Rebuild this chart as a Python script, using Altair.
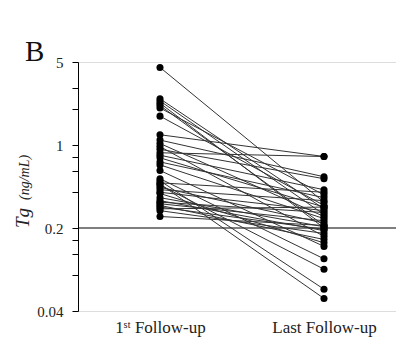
import altair as alt
import pandas as pd

# Tg values (ng/mL) per patient
first_fu = [4.5, 2.45, 2.35, 2.25, 2.15, 2.05, 1.75, 1.22, 1.10, 1.03, 0.97, 0.92,
            0.86, 0.82, 0.78, 0.72, 0.68, 0.61, 0.52, 0.50, 0.48, 0.47, 0.46, 0.44,
            0.42, 0.40, 0.39, 0.36, 0.34, 0.33, 0.32, 0.31, 0.30, 0.29, 0.28, 0.25]
last_fu = [0.33, 0.29, 0.26, 0.20, 0.21, 0.38, 0.31, 0.80, 0.54, 0.25, 0.17, 0.52,
           0.80, 0.42, 0.30, 0.36, 0.24, 0.14, 0.11, 0.061, 0.40, 0.051, 0.09, 0.22,
           0.34, 0.28, 0.15, 0.205, 0.19, 0.27, 0.23, 0.16, 0.195, 0.30, 0.18, 0.21]
time_labels = ["1ˢᵗ Follow-up", "Last Follow-up"]
tick_values = [5, 3, 2, 1, 0.8, 0.6, 0.4, 0.2, 0.16, 0.12, 0.08, 0.04]
label_values = [5, 1, 0.2, 0.04]
threshold = [0.2]
panel_letter = ["B"]
y_title_main = ["Tg"]
y_title_unit = ["(ng/mL)"]

rows = []
for i, (a, b) in enumerate(zip(first_fu, last_fu)):
    rows.append({"id": i, "time": time_labels[0], "tg": a})
    rows.append({"id": i, "time": time_labels[1], "tg": b})
df = pd.DataFrame(rows)

SERIF = "Liberation Serif"

x_enc = alt.X("time:N", sort=time_labels,
              scale=alt.Scale(type="point", range=[82, 246], padding=0),
              axis=alt.Axis(title=None, labelAngle=0, domain=False, ticks=False,
                            tickSize=0, labelPadding=21, labelFont=SERIF,
                            labelFontSize=17, labelColor="#222",
                            labelBaseline="alphabetic"))
label_test = " || ".join(f"datum.value == {v}" for v in label_values)
y_enc = alt.Y("tg:Q",
              scale=alt.Scale(type="log", domain=[0.04, 5], nice=False),
              axis=alt.Axis(values=tick_values, labelExpr=f"({label_test}) ? datum.label : ''",
                            format="~g", title=None,
                            domainColor="black", tickColor="black", tickSize=6,
                            labelPadding=9, labelFont=SERIF, labelFontSize=15,
                            labelColor="#222", grid=False))

base = alt.Chart(df)
lines = base.mark_line(color="#333", strokeWidth=1).encode(x=x_enc, y=y_enc, detail="id:N")
points = base.mark_circle(color="black", size=50, opacity=1).encode(x=x_enc, y=y_enc)
rule = alt.Chart(pd.DataFrame({"y": threshold})).mark_rule(color="black", strokeWidth=1.2).encode(y="y:Q")
letter = alt.Chart(pd.DataFrame({"t": panel_letter})).mark_text(
    font=SERIF, fontSize=29, color="#111", align="left", baseline="alphabetic"
).encode(text="t:N", x=alt.value(-53), y=alt.value(-1))
title_main = alt.Chart(pd.DataFrame({"t": y_title_main})).mark_text(
    font=SERIF, fontSize=19, fontStyle="italic", color="#222", align="left",
    baseline="alphabetic", angle=270
).encode(text="t:N", x=alt.value(-49), y=alt.value(166))
title_unit = alt.Chart(pd.DataFrame({"t": y_title_unit})).mark_text(
    font=SERIF, fontSize=14, fontStyle="italic", color="#222", align="left",
    baseline="alphabetic", angle=270
).encode(text="t:N", x=alt.value(-49), y=alt.value(138))

chart = alt.layer(rule, lines, points, letter, title_main, title_unit).properties(
    width=318, height=249,
    autosize=alt.AutoSizeParams(type="none"),
    padding={"left": 70, "top": 54, "right": 0, "bottom": 26},
).configure_view(stroke=None).configure(background="white")

chart.save("out.html", embed_options={"renderer": "svg", "actions": False})
